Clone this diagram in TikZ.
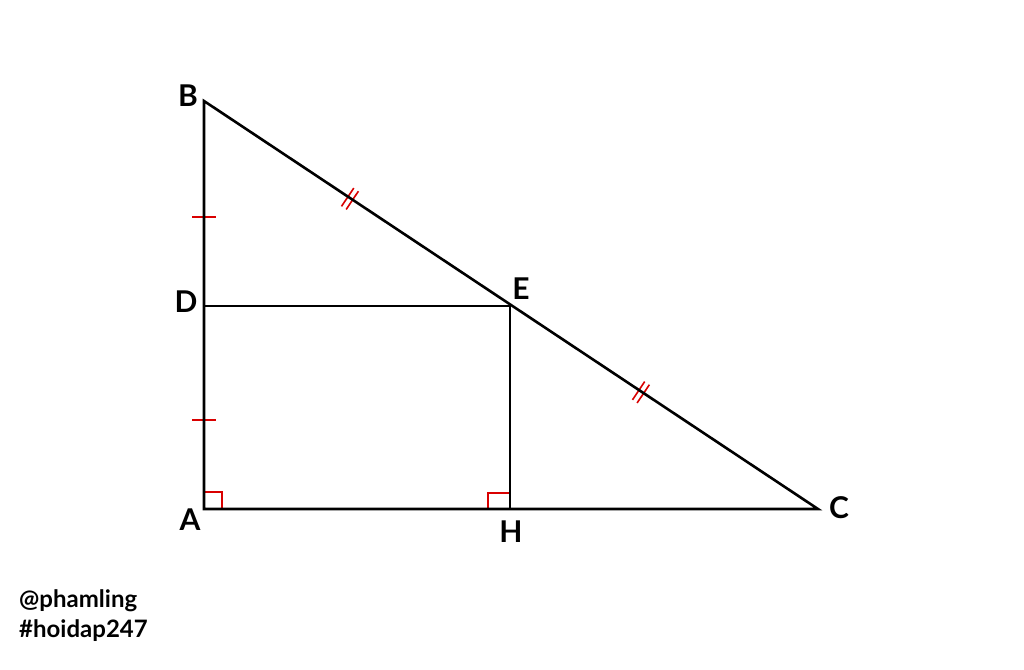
\documentclass[tikz,border=0pt]{standalone}
\usepackage{fontspec}
\setmainfont{Lato}[UprightFont=* Bold]
\begin{document}
\begin{tikzpicture}[x=1pt,y=-1pt,
  seg/.style={line width=2.6pt,black},
  mk/.style={line width=1.6pt,red!85!black},
  lbl/.style={font=\fontsize{30}{36}\selectfont,inner sep=0pt},
  wm/.style={font=\fontsize{24}{28}\selectfont,inner sep=0pt,anchor=west}]
\useasboundingbox (0,0) rectangle (1024,669);
\fill[white] (0,0) rectangle (1024,669);
\coordinate (A) at (204,509);
\coordinate (B) at (204,101);
\coordinate (C) at (818,509);
\coordinate (D) at (204,306);
\coordinate (E) at (510,306);
\coordinate (H) at (510,509);
% right angle marks
\draw[mk] (204,492) -- (222,492) -- (222,509);
\draw[mk] (488,509) -- (488,493) -- (510,493);
% single ticks on AB
\draw[mk] (192,217) -- (216,217);
\draw[mk] (192,420) -- (216,420);
% double ticks
\path (B) -- (E) coordinate[pos=0.477] (m1);
\path (E) -- (C) coordinate[pos=0.425] (m2);
\foreach \m in {m1,m2} {
  \begin{scope}[shift={(\m)},rotate=-33.8]
    \draw[mk] (-2.8,-11) -- (-2.8,11);
    \draw[mk] (2.8,-11) -- (2.8,11);
  \end{scope}
}
% main lines
\draw[seg,line join=miter] (B) -- (A) -- (C) -- cycle;
\draw[seg] (D) -- (E) -- (H);
% labels
\node[lbl] (lB) at (188,96) {B};
\node[lbl] (lD) at (186,302) {D};
\node[lbl] (lE) at (521,289) {E};
\node[lbl] (lA) at (190,520) {A};
\node[lbl] (lH) at (511,532) {H};
\node[lbl] (lC) at (839,508) {C};
\node[wm] (w1) at (19,601) {@phamling};
\node[wm] (w2) at (19,631) {\#hoidap247};
\end{tikzpicture}
\end{document}
